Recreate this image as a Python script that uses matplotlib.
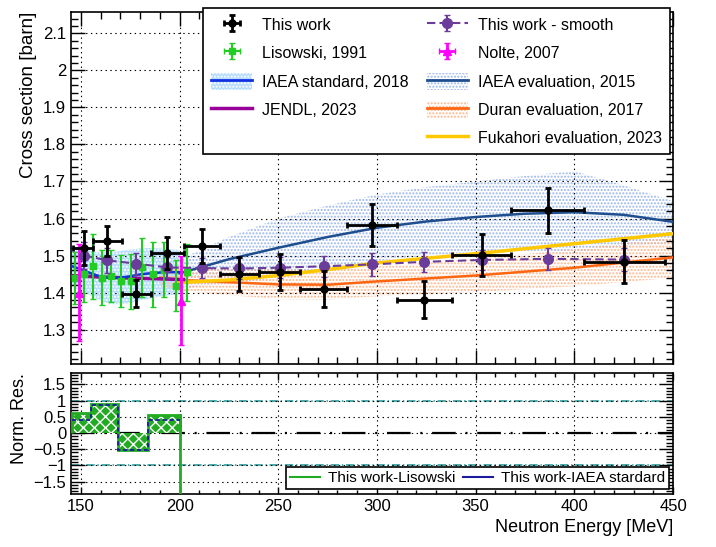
import numpy as np
import matplotlib
matplotlib.use("Agg")
import matplotlib.pyplot as plt
from matplotlib.patches import Patch
from matplotlib.lines import Line2D
from matplotlib.ticker import MultipleLocator, FuncFormatter

plt.rcParams['font.family'] = ['Liberation Sans', 'DejaVu Sans']
plt.rcParams['font.size'] = 12
plt.rcParams['hatch.linewidth'] = 1.0
plt.rcParams['lines.scale_dashes'] = False

# This work (bin edges, values, errors)
tw_edges = [146, 156.3, 170.6, 185.6, 202, 220.5, 240, 261, 284.6, 310, 338, 368, 405, 446]
tw_e = [151.5, 163.4, 178, 193.7, 211.4, 230, 250.7, 273, 297.4, 324, 353, 386.7, 425]
tw_y = [1.521, 1.539, 1.397, 1.507, 1.525, 1.451, 1.456, 1.41, 1.582, 1.381, 1.502, 1.622, 1.483]
tw_err = [0.046, 0.04, 0.036, 0.044, 0.046, 0.046, 0.048, 0.049, 0.056, 0.049, 0.057, 0.06, 0.058]

# This work - smooth
sm_y = [1.50, 1.487, 1.478, 1.468, 1.466, 1.465, 1.467, 1.471, 1.476, 1.483, 1.488, 1.491, 1.489]
sm_err = [0.036, 0.033, 0.03, 0.029, 0.028, 0.028, 0.028, 0.028, 0.03, 0.027, 0.028, 0.029, 0.03]

# Lisowski, 1991
lis_e = [147, 151.7, 156, 160.5, 165.3, 170.4, 175.5, 181, 186.6, 192, 198, 204]
lis_y = [1.44, 1.45, 1.471, 1.44, 1.444, 1.432, 1.43, 1.468, 1.449, 1.462, 1.419, 1.455]
lis_err = [0.07, 0.075, 0.088, 0.075, 0.07, 0.07, 0.075, 0.079, 0.088, 0.074, 0.068, 0.077]

# Nolte, 2007
nol_e = [148.8, 200.8]
nol_y = [1.40, 1.378]
nol_err = [0.13, 0.12]

# IAEA standard, 2018
std_e = [145, 150, 155, 160, 165, 170, 175, 180, 185, 190, 195, 200]
std_y = [1.472, 1.463, 1.452, 1.443, 1.439, 1.44, 1.444, 1.449, 1.452, 1.454, 1.455, 1.455]
std_hw = [0.055, 0.058, 0.06, 0.065, 0.07, 0.072, 0.072, 0.07, 0.068, 0.065, 0.062, 0.06]

# IAEA evaluation, 2015
iev_e = [200, 225, 250, 275, 300, 325, 350, 375, 400, 425, 450]
iev_y = [1.452, 1.49, 1.521, 1.55, 1.575, 1.592, 1.604, 1.613, 1.617, 1.61, 1.591]
iev_hi = [1.49, 1.55, 1.60, 1.635, 1.665, 1.685, 1.70, 1.715, 1.728, 1.69, 1.647]
iev_lo = [1.41, 1.425, 1.44, 1.465, 1.485, 1.50, 1.51, 1.51, 1.506, 1.525, 1.535]

# JENDL, 2023
jen_e = [145, 160, 175, 190, 202]
jen_y = [1.446, 1.442, 1.439, 1.437, 1.435]

# Duran evaluation, 2017
dur_e = [190, 200, 225, 250, 275, 300, 350, 400, 450]
dur_y = [1.44, 1.434, 1.428, 1.422, 1.421, 1.43, 1.446, 1.467, 1.495]
dur_hw = [0.02, 0.03, 0.035, 0.04, 0.04, 0.04, 0.045, 0.05, 0.055]

# Fukahori evaluation, 2023
fuk_e = [200, 225, 250, 275, 300, 350, 400, 450]
fuk_y = [1.427, 1.434, 1.446, 1.462, 1.48, 1.505, 1.532, 1.559]

# normalised residuals
res_edges = [145.3, 154.9, 169, 183.8, 200.2]
res_lis = [0.61, 0.89, -0.52, 0.56]
res_iaea = [0.40, 0.86, -0.52, 0.40]

c_std = '#1030e0'
c_iev = '#1f4e8f'
c_jen = '#990099'
c_dur = '#ff6611'
c_fuk = '#ffc800'
c_sm = '#6a3d9a'
c_lis = '#22cc22'
c_nol = '#ff00ff'

fig = plt.figure(figsize=(7.16, 5.47), dpi=100)
ax = fig.add_axes([0.0992, 0.3346, 0.8408, 0.6435])
axr = fig.add_axes([0.0992, 0.0969, 0.8408, 0.2212])

# bands
ax.fill_between(std_e, np.array(std_y) - std_hw, np.array(std_y) + std_hw,
                facecolor='#b8dcff', edgecolor='white', hatch='.....', lw=0, zorder=1)
ax.fill_between(iev_e, iev_lo, iev_hi, facecolor='none', edgecolor='#9ab6ee',
                hatch='.....', lw=0, zorder=1)
ax.fill_between(dur_e, np.array(dur_y) - dur_hw, np.array(dur_y) + dur_hw,
                facecolor='none', edgecolor='#ffb48a', hatch='.....', lw=0, zorder=1)

# curves
ax.plot(iev_e, iev_y, color=c_iev, lw=1.8, zorder=3)
ax.plot(dur_e, dur_y, color=c_dur, lw=1.8, zorder=3)
ax.plot(fuk_e, fuk_y, color=c_fuk, lw=2.5, zorder=3)
ax.plot(jen_e, jen_y, color=c_jen, lw=2.5, zorder=3)
ax.plot(std_e, std_y, color=c_std, lw=1.8, zorder=3)

# data
tw_lo = [e - a for e, a in zip(tw_e, tw_edges[:-1])]
tw_hi = [b - e for e, b in zip(tw_e, tw_edges[1:])]
h_lis = ax.errorbar(lis_e, lis_y, xerr=1.5, yerr=lis_err, fmt='s', color=c_lis,
                    ms=4, lw=1.5, capsize=2, zorder=5)
h_nol = ax.errorbar(nol_e, nol_y, xerr=0, yerr=nol_err, fmt='^', color=c_nol,
                    ms=6, lw=2, capsize=2, zorder=6)
h_sm = ax.errorbar(tw_e, sm_y, yerr=sm_err, fmt='o', ls=(0, (6, 3)), color=c_sm,
                   ms=7, lw=1.5, capsize=2, zorder=7)
h_tw = ax.errorbar(tw_e, tw_y, xerr=[tw_lo, tw_hi], yerr=tw_err, fmt='o', color='black',
                   ms=5, lw=2, capsize=2, capthick=2, zorder=10)

ax.set_xlim(145, 450)
ax.set_ylim(1.207, 2.158)
ax.xaxis.set_major_locator(MultipleLocator(50))
ax.xaxis.set_minor_locator(MultipleLocator(10))
ax.yaxis.set_major_locator(MultipleLocator(0.1))
ax.yaxis.set_minor_locator(MultipleLocator(0.02))
fmt = FuncFormatter(lambda v, p: ('%g' % round(v, 3)).replace('-', '\u2212'))
ax.yaxis.set_major_formatter(fmt)
ax.tick_params(axis='x', labelbottom=False)
ax.set_ylabel('Cross section [barn]', loc='top', fontsize=13.5)
ax.grid(True, which='major', color='black', ls=(0, (1, 2.5)), lw=0.8)

handles = [
    h_tw,
    h_lis,
    (Patch(facecolor='#b8dcff', edgecolor='white', hatch='.....', lw=0), Line2D([], [], color=c_std, lw=2)),
    Line2D([], [], color=c_jen, lw=2.5),
    Line2D([], [], color='none'),
    h_sm,
    h_nol,
    (Patch(facecolor='none', edgecolor='#9ab6ee', hatch='.....', lw=0), Line2D([], [], color=c_iev, lw=2)),
    (Patch(facecolor='none', edgecolor='#ffb48a', hatch='.....', lw=0), Line2D([], [], color=c_dur, lw=2)),
    Line2D([], [], color=c_fuk, lw=2.5),
]
labels = ['This work', 'Lisowski, 1991', 'IAEA standard, 2018', 'JENDL, 2023', '',
          'This work - smooth', 'Nolte, 2007', 'IAEA evaluation, 2015',
          'Duran evaluation, 2017', 'Fukahori evaluation, 2023']
leg = ax.legend(handles, labels, ncol=2, mode='expand', loc='upper left',
                bbox_to_anchor=(0.2835, 0.7258, 0.652, 0.2596), bbox_transform=fig.transFigure,
                fontsize=11.5, handlelength=2.6, handleheight=1.3, handletextpad=0.6,
                labelspacing=0.68, fancybox=False, edgecolor='black', framealpha=1,
                borderaxespad=0, borderpad=0.5)
leg.get_frame().set_linewidth(1.2)
leg.set_zorder(20)

# residual panel
axr.stairs(res_lis, res_edges, baseline=0, fill=True, facecolor='#22aa22',
           edgecolor='white', hatch='xxx', lw=0, zorder=2)
axr.stairs(res_lis, res_edges, baseline=0, color='#22aa22', lw=2, zorder=3)
axr.stairs(res_iaea, res_edges, baseline=None, color='#1a1aa0', lw=1.3, ls=(0, (3, 2)), zorder=4)
axr.plot([res_edges[-1], res_edges[-1]], [res_lis[-1], -1.9], color='#22aa22', lw=2, zorder=3)
axr.axhline(1, color='#2a9d9d', ls=(0, (6, 2, 1, 2)), lw=1.2, zorder=1)
axr.axhline(-1, color='#2a9d9d', ls=(0, (6, 2, 1, 2)), lw=1.2, zorder=1)
axr.axhline(0, color='black', ls=(0, (17, 7, 1.5, 7)), lw=1.6, zorder=1)

axr.set_xlim(145, 450)
axr.set_ylim(-1.88, 1.85)
axr.xaxis.set_major_locator(MultipleLocator(50))
axr.xaxis.set_minor_locator(MultipleLocator(10))
axr.yaxis.set_major_locator(MultipleLocator(0.5))
axr.yaxis.set_minor_locator(MultipleLocator(0.1))
axr.yaxis.set_major_formatter(fmt)
axr.set_ylabel('Norm. Res.', loc='top', fontsize=13)
axr.set_xlabel('Neutron Energy [MeV]', loc='right', fontsize=13)
axr.grid(True, which='major', color='black', ls=(0, (1, 2.5)), lw=0.8)

rleg = axr.legend([Line2D([], [], color='#22aa22', lw=1.5), Line2D([], [], color='#1a1aa0', lw=1.5)],
                  ['This work-Lisowski', 'This work-IAEA stardard'], ncol=2, mode='expand',
                  loc='lower left', bbox_to_anchor=(0.3994, 0.106, 0.535, 0.0457),
                  bbox_transform=fig.transFigure, fontsize=11, handlelength=2.0,
                  handletextpad=0.5, columnspacing=0.6, fancybox=False, edgecolor='black',
                  framealpha=1, borderaxespad=0, borderpad=0.25)
rleg.get_frame().set_linewidth(1.2)

for a in (ax, axr):
    a.tick_params(which='both', direction='in', top=True, right=True, width=1)
    for s in a.spines.values():
        s.set_linewidth(1.2)
ax.tick_params(which='major', length=10)
ax.tick_params(which='minor', length=5)
axr.tick_params(axis='x', which='major', length=5)
axr.tick_params(axis='x', which='minor', length=3)
axr.tick_params(axis='y', which='major', length=10)
axr.tick_params(axis='y', which='minor', length=5)

fig.savefig('out.png', dpi=100)
